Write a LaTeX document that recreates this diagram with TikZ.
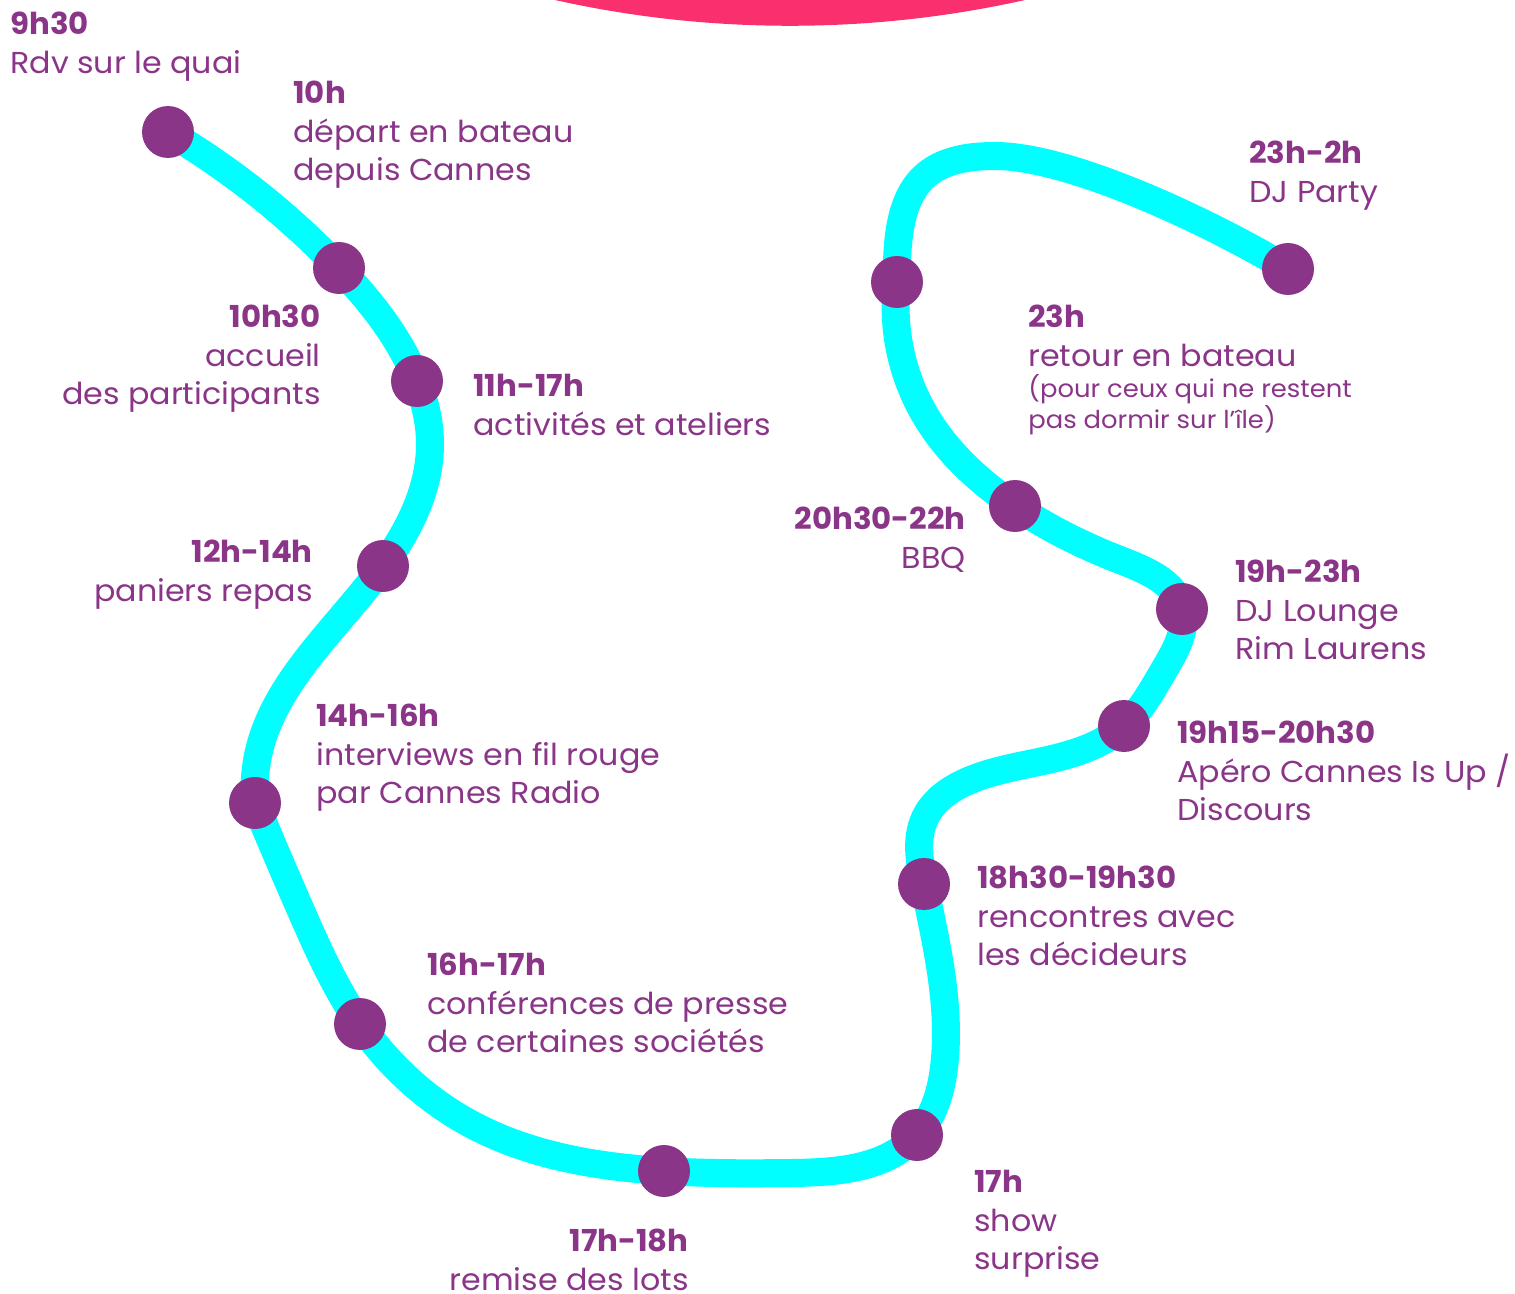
\documentclass[tikz,border=0pt]{standalone}
\usepackage{fontspec}
\setmainfont{Poppins}[UprightFeatures={FakeStretch=1.05}, BoldFeatures={FakeStretch=1.02}]
\usetikzlibrary{hobby}
\definecolor{plum}{RGB}{138,53,136}
\definecolor{aqua}{RGB}{0,255,255}
\definecolor{rose}{RGB}{250,48,110}
\newcommand{\fs}{\rule{0pt}{1em}}
\begin{document}
\begin{tikzpicture}[x=0.02cm,y=-0.02cm,
  lbl/.style={inner sep=0pt, text=plum, font=\fontsize{17.2}{21.9}\selectfont},
  lbll/.style={lbl, align=left, anchor=north west},
  lblr/.style={lbl, align=right, anchor=north east},
  lbls/.style={inner sep=0pt, text=plum, font=\fontsize{14}{17.6}\selectfont, align=left, anchor=north west},
  dot/.style={circle, fill=plum, inner sep=0pt, minimum size=1.04cm},
  route/.style={draw=aqua, line width=0.56cm, line cap=round}]
\useasboundingbox (0,0) rectangle (1515,1294);
\begin{scope}
\clip (0,0) rectangle (1515,1294);
\fill[rose] (790,-1049) circle [radius=21.5cm];
\end{scope}
% stops
\coordinate (p1) at (168,132);
\coordinate (p2) at (339,268);
\coordinate (p3) at (417,381);
\coordinate (p4) at (383,566);
\coordinate (p5) at (255,803);
\coordinate (p6) at (360,1024);
\coordinate (p7) at (664,1171);
\coordinate (p8) at (917,1135);
\coordinate (p9) at (924,884);
\coordinate (p10) at (1124,726);
\coordinate (p11) at (1182,609);
\coordinate (p12) at (1015,506);
\coordinate (p13) at (897,282);
\coordinate (p14) at (1288,269);
\coordinate (top) at (995,156);
\draw[route, use Hobby shortcut] (p1) .. (p2) .. (p3) .. (430,445) .. (p4) .. (305,662) .. (262,740) .. (p5);
\draw[route, use Hobby shortcut] (p5) .. (302,913) .. (p6) .. (469,1123) .. (p7) .. (790,1173) .. (p8) .. (945,1058) .. (p9)
 .. (925,818) .. (968,781) .. (1060,757) .. (p10) .. (1164,670) .. (p11) .. (1120,560) .. (p12)
 .. (925,415) .. (p13);
\draw[route] (p13) .. controls (895,190) and (920,156) .. (top)
 .. controls (1070,156) and (1210,222) .. (p14);
\foreach \i in {1,...,14} \node[dot] (d\i) at (p\i) {};
% labels
\node[lbll] (t1) at (10,4) {\fs\textbf{9h30}\\Rdv sur le quai};
\node[lbll] (t2) at (293,73) {\fs\textbf{10h}\\départ en bateau\\depuis Cannes};
\node[lblr] (t3) at (321,297) {\fs\textbf{10h30}\\accueil\\des participants};
\node[lbll] (t4) at (473,366) {\fs\textbf{11h-17h}\\activités et ateliers};
\node[lblr] (t5) at (313,532) {\fs\textbf{12h-14h}\\paniers repas};
\node[lbll] (t6) at (316,696) {\fs\textbf{14h-16h}\\interviews en fil rouge\\par Cannes Radio};
\node[lbll] (t7) at (427,945) {\fs\textbf{16h-17h}\\conférences de presse\\de certaines sociétés};
\node[lblr] (t8) at (689,1221) {\fs\textbf{17h-18h}\\remise des lots};
\node[lbll] (t9) at (974,1162) {\fs\textbf{17h}\\show\\surprise};
\node[lbll] (t10) at (977,858) {\fs\textbf{18h30-19h30}\\rencontres avec\\les décideurs};
\node[lbll] (t11) at (1177,713) {\fs\textbf{19h15-20h30}\\Apéro Cannes Is Up /\\Discours};
\node[lbll] (t12) at (1235,552) {\fs\textbf{19h-23h}\\DJ Lounge\\Rim Laurens};
\node[lblr] (t13) at (966,499) {\fs\textbf{20h30-22h}\\BBQ};
\node[lbll] (t14) at (1028,297) {\fs\textbf{23h}\\retour en bateau};
\node[lbls] (t14s) at (1028,372.4) {\fs(pour ceux qui ne restent\\pas dormir sur l’île)};
\node[lbll] (t15) at (1249,133) {\fs\textbf{23h-2h}\\DJ Party};
\end{tikzpicture}
\end{document}
